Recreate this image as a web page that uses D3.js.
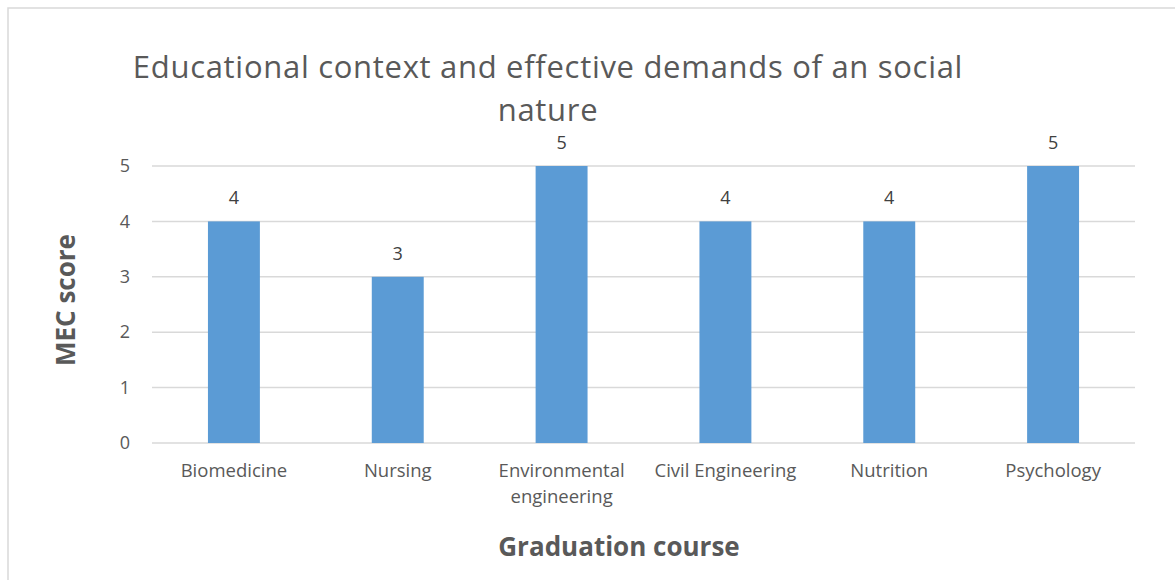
<!DOCTYPE html>
<html>
<head>
<meta charset="utf-8">
<script src="https://cdn.jsdelivr.net/npm/d3@7"></script>
<style>
  body { margin: 0; background: #fff; }
  text { font-family: "Open Sans", "Noto Sans", sans-serif; }
</style>
</head>
<body>
<div class="canvas"></div>
<script>
const courses = ["Biomedicine", "Nursing", "Environmental engineering", "Civil Engineering", "Nutrition", "Psychology"];
const scores = [4, 3, 5, 4, 4, 5];
const yTicks = [0, 1, 2, 3, 4, 5];
const titleLines = ["Educational context and effective demands of an social", "nature"];

const width = 1175;
const height = 580;
const margins = { top: 166, right: 40, bottom: 137, left: 152 };
const graphWidth = 1135 - margins.left;
const graphHeight = 443 - margins.top;

const svg = d3
  .select(".canvas")
  .append("svg")
  .attr("width", width)
  .attr("height", height);

// chart border
svg
  .append("rect")
  .attr("x", 8)
  .attr("y", 8)
  .attr("width", 1180)
  .attr("height", 600)
  .attr("fill", "#fff")
  .attr("stroke", "#d9d9d9")
  .attr("stroke-width", 1.5);

const graph = svg
  .append("g")
  .attr("transform", `translate(${margins.left}, ${margins.top})`);

// scales
const x = d3.scaleBand().domain(courses).range([0, graphWidth]).paddingInner(0.683).paddingOuter(0.3415);
const y = d3.scaleLinear().domain([0, 5]).range([graphHeight, 0]);

// gridlines
graph
  .append("g")
  .selectAll("line")
  .data(yTicks)
  .join("line")
  .attr("x1", 0)
  .attr("x2", graphWidth)
  .attr("y1", (d) => y(d))
  .attr("y2", (d) => y(d))
  .attr("stroke", "#d9d9d9")
  .attr("stroke-width", 1.5);

// y axis labels
const yAxis = d3.axisLeft(y).tickValues(yTicks).tickFormat(d3.format("d")).tickSize(0).tickPadding(22);
const yAxisGroup = graph.append("g").call(yAxis);
yAxisGroup.select(".domain").remove();
yAxisGroup
  .selectAll("text")
  .attr("fill", "#595959")
  .style("font-size", "18px");

// bars
graph
  .selectAll("rect.bar")
  .data(scores)
  .join("rect")
  .attr("class", "bar")
  .attr("x", (d, i) => x(courses[i]))
  .attr("y", (d) => y(d))
  .attr("width", x.bandwidth())
  .attr("height", (d) => graphHeight - y(d))
  .attr("fill", "#5b9bd5");

// value labels
graph
  .selectAll("text.value")
  .data(scores)
  .join("text")
  .attr("class", "value")
  .attr("x", (d, i) => x(courses[i]) + x.bandwidth() / 2)
  .attr("y", (d) => y(d) - 17)
  .attr("text-anchor", "middle")
  .attr("fill", "#404040")
  .style("font-size", "18px")
  .text((d) => d);

// x axis labels
const xAxis = d3.axisBottom(x).tickSize(0).tickPadding(0);
const xAxisGroup = graph
  .append("g")
  .attr("transform", `translate(0, ${graphHeight})`)
  .call(xAxis);
xAxisGroup.select(".domain").remove();
xAxisGroup
  .selectAll("text")
  .attr("fill", "#595959")
  .style("font-size", "18.5px")
  .attr("dy", null)
  .attr("y", 0)
  .each(function (d) {
    const t = d3.select(this);
    t.text(null);
    const lines = d === "Environmental engineering" ? ["Environmental", "engineering"] : [d];
    lines.forEach((ln, i) => {
      t.append("tspan")
        .attr("x", 0)
        .attr("y", 34 + i * 26)
        .text(ln);
    });
  });

// title, one text per line
svg
  .selectAll("text.title")
  .data(titleLines)
  .join("text")
  .attr("class", "title")
  .attr("x", 548)
  .attr("y", (d, i) => 78 + i * 43)
  .attr("text-anchor", "middle")
  .attr("fill", "#595959")
  .style("font-size", "31px")
  .style("letter-spacing", "0.7px")
  .text((d) => d);

// axis titles
svg
  .append("text")
  .attr("transform", "translate(75, 300) rotate(-90)")
  .attr("text-anchor", "middle")
  .attr("fill", "#595959")
  .style("font-size", "26px")
  .style("font-weight", "bold")
  .text("MEC score");

svg
  .append("text")
  .attr("x", 619)
  .attr("y", 556)
  .attr("text-anchor", "middle")
  .attr("fill", "#595959")
  .style("font-size", "26px")
  .style("font-weight", "bold")
  .text("Graduation course");
</script>
</body>
</html>
